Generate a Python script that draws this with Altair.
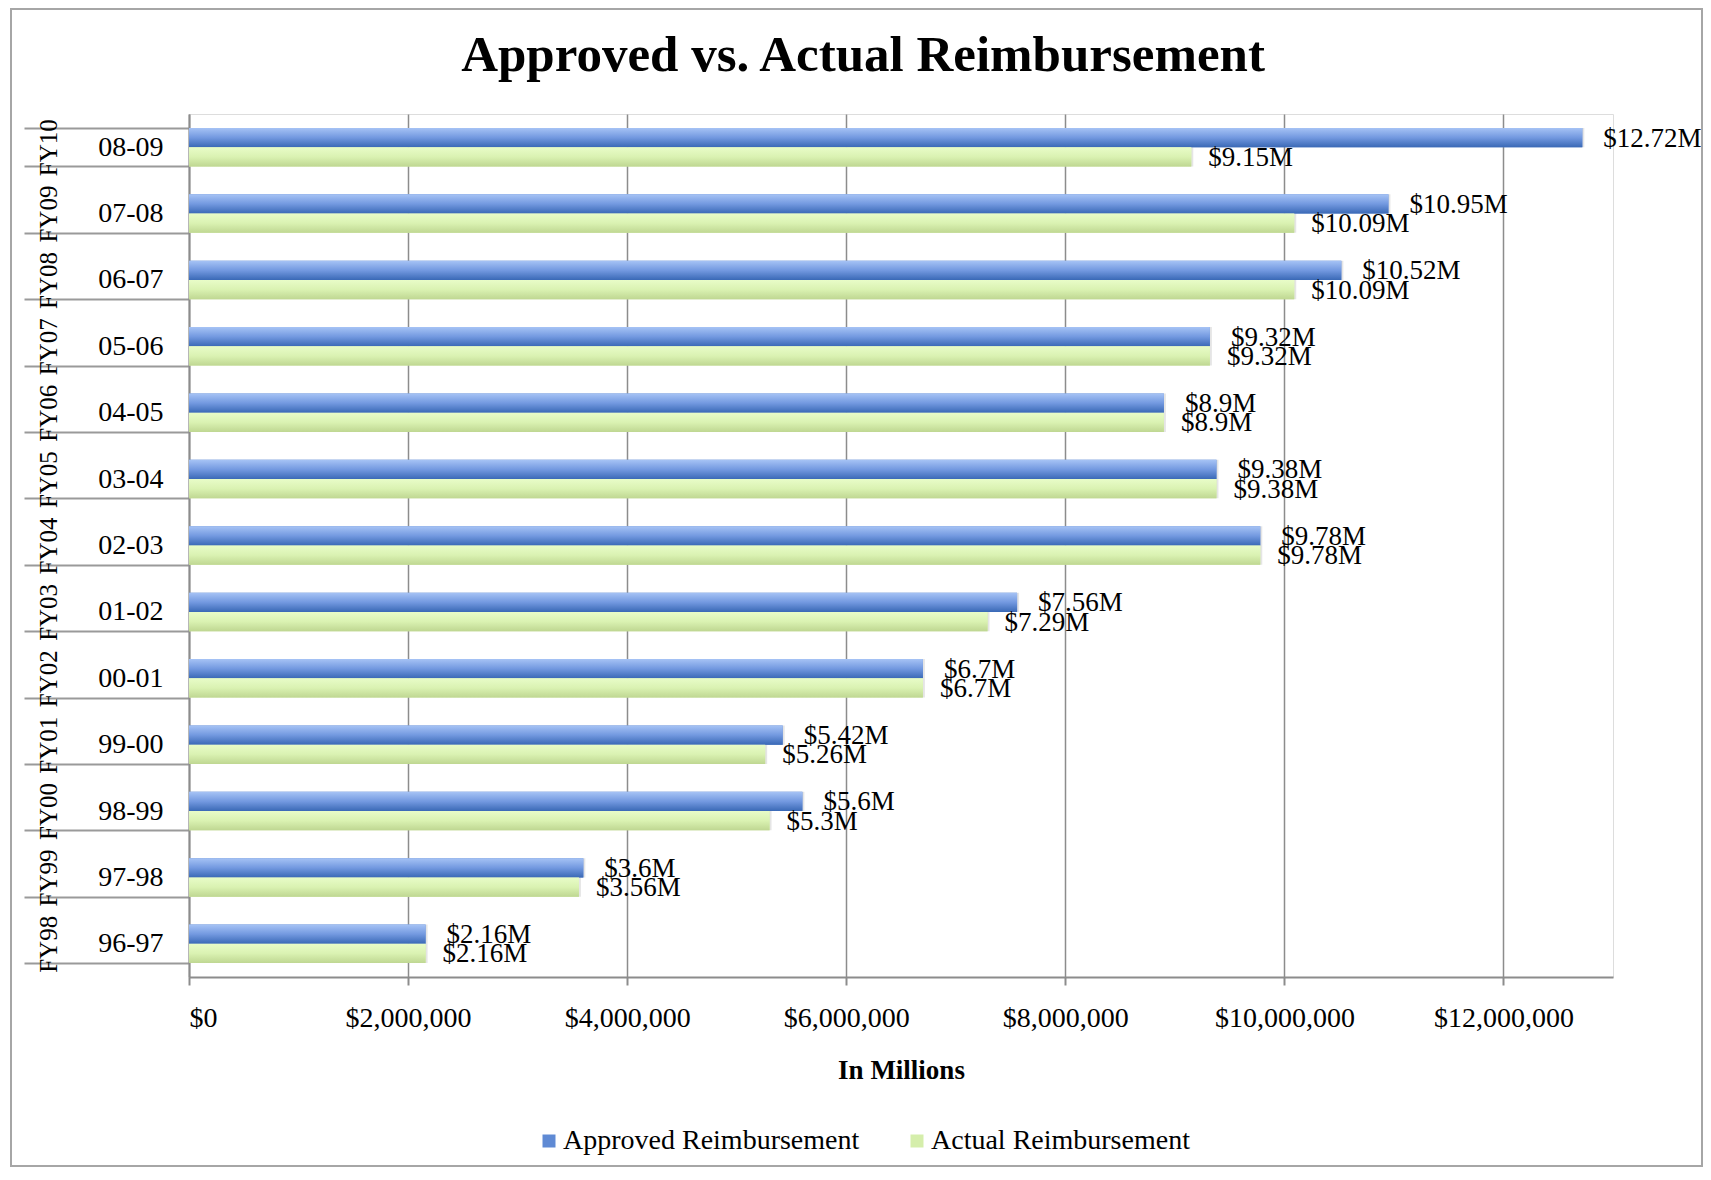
import altair as alt
import pandas as pd

# ---- data ----
periods = ["08-09", "07-08", "06-07", "05-06", "04-05", "03-04", "02-03",
           "01-02", "00-01", "99-00", "98-99", "97-98", "96-97"]
fiscal = ["FY10", "FY09", "FY08", "FY07", "FY06", "FY05", "FY04",
          "FY03", "FY02", "FY01", "FY00", "FY99", "FY98"]
approved = [12.72, 10.95, 10.52, 9.32, 8.9, 9.38, 9.78, 7.56, 6.7, 5.42, 5.6, 3.6, 2.16]
actual = [9.15, 10.09, 10.09, 9.32, 8.9, 9.38, 9.78, 7.29, 6.7, 5.26, 5.3, 3.56, 2.16]
series = ["Approved Reimbursement", "Actual Reimbursement"]
x_ticks = [0, 2000000, 4000000, 6000000, 8000000, 10000000, 12000000]
title_text = "Approved vs. Actual Reimbursement"
x_title = "In Millions"

rows = []
for p, f, a, c in zip(periods, fiscal, approved, actual):
    rows.append({"period": p, "fy": f, "series": series[0], "value": a})
    rows.append({"period": p, "fy": f, "series": series[1], "value": c})
df = pd.DataFrame(rows)
df["dollars"] = df["value"] * 1e6
df["label"] = df["value"].map(lambda v: f"${v:g}M")
fy_df = pd.DataFrame({"fy": fiscal})

FONT = "Liberation Serif"
GRAY = "#8c8c8c"
W, H = 1424, 863

band = alt.Scale(paddingInner=0.42, paddingOuter=0.21)
off_scale = alt.Scale(domain=series, paddingInner=0, paddingOuter=0)

x_enc = alt.X(
    "dollars:Q",
    scale=alt.Scale(domain=[0, 13000000], nice=False),
    axis=alt.Axis(values=x_ticks, format="$,.0f", title=x_title,
                  labelFont=FONT, labelFontSize=28, labelColor="black",
                  titleFont=FONT, titleFontSize=27, titleFontWeight="bold",
                  titleColor="black", tickSize=8, tickColor=GRAY, tickWidth=2,
                  domainColor=GRAY, domainWidth=2, gridColor=GRAY, gridWidth=1.5,
                  labelPadding=19, titlePadding=25),
)
y_enc = alt.Y(
    "period:N", sort=periods, scale=band,
    axis=alt.Axis(title=None, orient="left", tickBand="extent", tickSize=165,
                  tickColor="#9a9a9a", tickWidth=2, domainColor=GRAY, domainWidth=2,
                  labelFont=FONT, labelFontSize=28, labelColor="black",
                  labelPadding=-139, grid=False),
)
yoff_enc = alt.YOffset("series:N", sort=series, scale=off_scale)

base = alt.Chart(df)

shadow = base.mark_bar(color="#000000", opacity=0.10, xOffset=2, yOffset=3).encode(
    x=x_enc, y=y_enc, yOffset=yoff_enc)

solid = base.mark_bar().encode(
    x=x_enc, y=y_enc, yOffset=yoff_enc,
    color=alt.Color("series:N", sort=series,
                    scale=alt.Scale(domain=series, range=["#5f8ad4", "#d5eeab"]),
                    legend=alt.Legend(orient="none", legendX=346, legendY=1013,
                                      direction="horizontal", title=None,
                                      symbolType="square", symbolSize=169,
                                      symbolStrokeWidth=0, labelFont=FONT,
                                      labelFontSize=28, labelColor="black",
                                      labelLimit=500,
                                      columnPadding=43, labelOffset=0)),
)

blue_grad = alt.LinearGradient(
    gradient="linear", x1=0, x2=0, y1=0, y2=1,
    stops=[alt.GradientStop(color="#a6c3f5", offset=0),
           alt.GradientStop(color="#7399e0", offset=0.5),
           alt.GradientStop(color="#3a69b6", offset=1)])
green_grad = alt.LinearGradient(
    gradient="linear", x1=0, x2=0, y1=0, y2=1,
    stops=[alt.GradientStop(color="#e8fcc8", offset=0),
           alt.GradientStop(color="#daf2b2", offset=0.5),
           alt.GradientStop(color="#bfd792", offset=1)])

blue_bars = base.transform_filter(alt.datum.series == series[0]).mark_bar(fill=blue_grad).encode(
    x=x_enc, y=y_enc, yOffset=yoff_enc)
green_bars = base.transform_filter(alt.datum.series == series[1]).mark_bar(fill=green_grad).encode(
    x=x_enc, y=y_enc, yOffset=yoff_enc)

lab_a = base.transform_filter(alt.datum.series == series[0]).mark_text(
    align="left", baseline="middle", dx=21, dy=1, font=FONT, fontSize=27, color="black"
).encode(x=x_enc, y=y_enc, yOffset=yoff_enc, text="label:N")
lab_b = base.transform_filter(alt.datum.series == series[1]).mark_text(
    align="left", baseline="middle", dx=17, dy=1, font=FONT, fontSize=27, color="black"
).encode(x=x_enc, y=y_enc, yOffset=yoff_enc, text="label:N")

main = alt.layer(shadow, solid, blue_bars, green_bars, lab_a, lab_b)

fy_layer = alt.Chart(fy_df).mark_point(opacity=0).encode(
    y=alt.Y("fy:N", sort=fiscal, scale=band,
            axis=alt.Axis(title=None, orient="left", ticks=False, domain=False,
                          labelAngle=270, labelAlign="center", labelBaseline="middle",
                          labelPadding=141, labelFont=FONT, labelFontSize=25,
                          labelColor="black", grid=False)))

frame = alt.Chart(pd.DataFrame({"frame": [0]})).mark_rect(
    fillOpacity=0, stroke="#a6a6a6", strokeWidth=2
).encode(x=alt.value(-178), x2=alt.value(1513), y=alt.value(-105), y2=alt.value(1052))

chart = alt.layer(main, fy_layer, frame).resolve_scale(y="independent").properties(
    width=W, height=H,
    title=alt.TitleParams(title_text, font=FONT, fontSize=51, fontWeight="bold",
                          color="black", anchor="middle", dx=-38, offset=-114,
                          baseline="alphabetic"),
    autosize=alt.AutoSizeParams(type="none"),
    padding={"left": 181, "top": 106, "right": 90, "bottom": 191},
).configure_view(strokeWidth=0).configure(background="white")

chart.save("out.html", embed_options={"renderer": "svg", "actions": False})
